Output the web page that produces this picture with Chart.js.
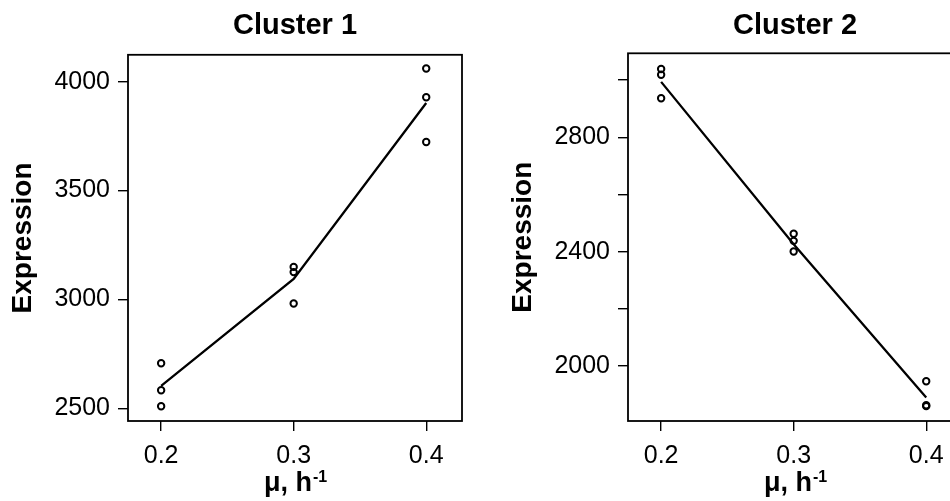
<!DOCTYPE html>
<html>
<head>
<meta charset="utf-8">
<script src="https://cdn.jsdelivr.net/npm/chart.js@4/dist/chart.umd.min.js"></script>
<style>
  html, body { margin: 0; padding: 0; background: #fff; }
  #wrap { width: 950px; height: 501px; overflow: hidden; }
  #row { display: flex; width: 1000px; height: 501px; }
  #row canvas { flex: none; }
</style>
</head>
<body>
<div id="wrap">
  <div id="row">
    <canvas id="cluster1" width="500" height="501"></canvas>
    <canvas id="cluster2" width="500" height="501"></canvas>
  </div>
</div>
<script>
// growth rate (mu) of each sample, three replicates per level
const muLevels = [0.2, 0.3, 0.4];
const sampleMu = [0.2, 0.2, 0.2, 0.3, 0.3, 0.3, 0.4, 0.4, 0.4];

// cluster 1: expression rises with growth rate
const cluster1Expr = [2708, 2584, 2511, 3150, 3126, 2982, 4060, 3928, 3723];
const cluster1Trend = [2604, 3095, 3902];
const cluster1Ticks = [2500, 3000, 3500, 4000];

// cluster 2: expression falls with growth rate
const cluster2Expr = [3039, 3019, 2937, 2463, 2438, 2401, 1947, 1863, 1860];
const cluster2Trend = [2994, 2426, 1890];
const cluster2Ticks = [2000, 2200, 2400, 2600, 2800, 3000];
const cluster2Labels = [2000, 2400, 2800];

const FONT = '"Liberation Sans", Arial, Helvetica, sans-serif';
Chart.defaults.font.family = FONT;
Chart.defaults.color = '#000';

// box around the plot region plus the x title with its superscript
const framePlugin = {
    id: 'frame',
    afterDraw(chart) {
        const { ctx, chartArea: a } = chart;
        ctx.save();
        ctx.strokeStyle = '#000';
        ctx.lineWidth = 1.8;
        ctx.strokeRect(a.left, a.top, a.right - a.left, a.bottom - a.top);

        const base = 'μ, h';
        const sup = '-1';
        ctx.fillStyle = '#000';
        ctx.textBaseline = 'alphabetic';
        ctx.font = 'bold 27px ' + FONT;
        const w1 = ctx.measureText(base).width;
        ctx.font = 'bold 16px ' + FONT;
        const w2 = ctx.measureText(sup).width;
        const x0 = (a.left + a.right) / 2 - (w1 + w2) / 2;
        ctx.font = 'bold 27px ' + FONT;
        ctx.fillText(base, x0, 491);
        ctx.font = 'bold 16px ' + FONT;
        ctx.fillText(sup, x0 + w1 + 1, 482);
        ctx.restore();
    }
};

function makeChart(id, title, values, trend, ticks, labels, yMin, yMax, titleGap) {
    const points = sampleMu.map(function (m, i) {
        return { x: m, y: values[i] };
    });
    const line = muLevels.map(function (m, i) {
        return { x: m, y: trend[i] };
    });

    const axisGrid = {
        display: true,
        drawOnChartArea: false,
        drawTicks: true,
        tickLength: 10,
        color: '#000',
        lineWidth: 1.4
    };

    return new Chart(document.getElementById(id), {
        type: 'scatter',
        data: {
            datasets: [{
                type: 'line',
                data: line,
                borderColor: '#000',
                borderWidth: 2.3,
                pointRadius: 0,
                tension: 0,
                fill: false
            }, {
                data: points,
                pointStyle: 'circle',
                pointRadius: 3.2,
                borderWidth: 2,
                borderColor: '#000',
                backgroundColor: 'rgba(0,0,0,0)'
            }]
        },
        plugins: [framePlugin],
        options: {
            responsive: false,
            animation: false,
            layout: { padding: { left: 0, right: 38, top: 0, bottom: 0 } },
            plugins: {
                legend: { display: false },
                tooltip: { enabled: false },
                title: {
                    display: true,
                    text: title,
                    fullSize: false,
                    color: '#000',
                    font: { size: 29, weight: 'bold' },
                    padding: { top: 9, bottom: titleGap }
                }
            },
            scales: {
                x: {
                    type: 'linear',
                    min: 0.175,
                    max: 0.427,
                    grid: axisGrid,
                    border: { display: false },
                    afterBuildTicks: function (s) {
                        s.ticks = muLevels.map(function (v) { return { value: v }; });
                    },
                    afterFit: function (s) { s.height = 80; },
                    ticks: {
                        padding: 10,
                        maxRotation: 0,
                        font: { size: 25 },
                        callback: function (v) { return v.toFixed(1); }
                    }
                },
                y: {
                    type: 'linear',
                    min: yMin,
                    max: yMax,
                    grid: axisGrid,
                    border: { display: false },
                    afterBuildTicks: function (s) {
                        s.ticks = ticks.map(function (v) { return { value: v }; });
                    },
                    afterFit: function (s) { s.width = 128; },
                    title: {
                        display: true,
                        text: 'Expression',
                        font: { size: 28, weight: 'bold' },
                        padding: { top: 6, bottom: 0 }
                    },
                    ticks: {
                        padding: 8,
                        font: { size: 25 },
                        callback: function (v) {
                            return labels.includes(v) ? String(v) : '';
                        }
                    }
                }
            }
        }
    });
}

makeChart('cluster1', 'Cluster 1', cluster1Expr, cluster1Trend, cluster1Ticks, cluster1Ticks, 2443, 4123, 11);
makeChart('cluster2', 'Cluster 2', cluster2Expr, cluster2Trend, cluster2Ticks, cluster2Labels, 1808, 3094, 9.5);
</script>
</body>
</html>
